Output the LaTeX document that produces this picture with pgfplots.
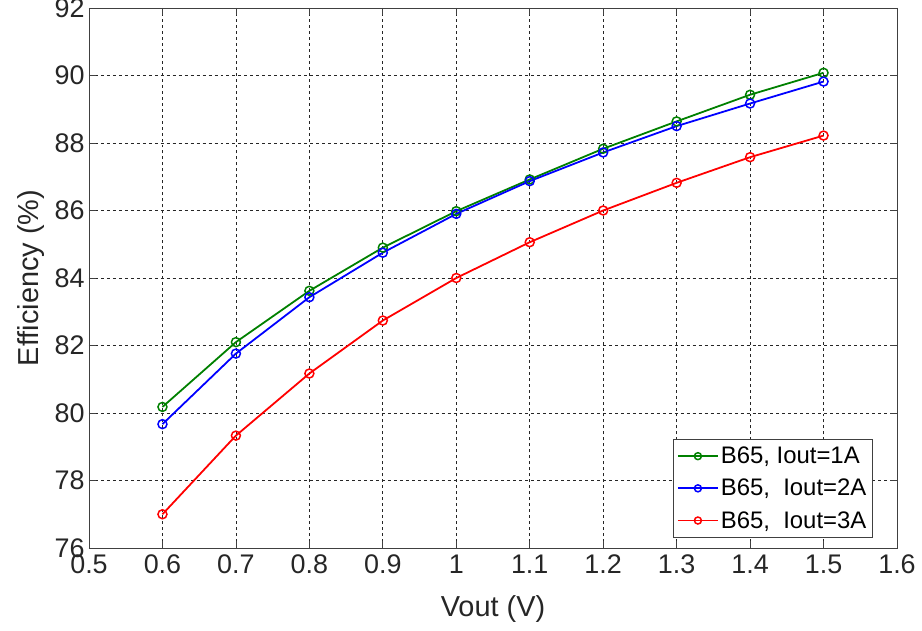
\documentclass[border=0pt]{standalone}
\usepackage{pgfplots}
\pgfplotsset{compat=1.18}
\usepackage{fontspec}
\setmainfont{Liberation Sans}
\definecolor{mgreen}{rgb}{0,0.5,0}
\begin{document}
\begin{tikzpicture}
\begin{axis}[
  name=ax,
  scale only axis,
  width=808bp, height=540bp,
  xmin=0.5, xmax=1.6, ymin=76, ymax=92,
  xtick={0.5,0.6,...,1.6},
  xticklabels={0.5,0.6,0.7,0.8,0.9,1,1.1,1.2,1.3,1.4,1.5,1.6},
  ytick={76,78,...,92},
  /pgf/number format/assume math mode=true,
  tick label style={font=\fontsize{27}{30}\selectfont, text=black!85},
  xticklabel style={yshift=-5bp, inner ysep=2bp},
  yticklabel style={xshift=-1bp, inner ysep=1bp},
  label style={font=\fontsize{29}{32}\selectfont, text=black!85},
  xlabel={Vout (V)}, ylabel={Efficiency (\%)},
  xlabel style={yshift=-16bp},
  ylabel style={yshift=3bp},
  tick align=inside, major tick length=7bp,
  tick style={black!75, line width=0.8pt},
  axis line style={draw=black!75, line width=0.8pt},
  grid=major,
  major grid style={dashed, black!85, line width=0.7pt},
  every axis plot/.append style={line width=1.8pt, mark=o, mark size=4.5bp, mark options={solid, line width=1.5pt}},
  legend cell align=left,
  legend style={font=\fontsize{24}{27}\selectfont, draw=black!75, line width=0.8pt, inner xsep=4bp, inner ysep=6bp, row sep=10bp, at={(0.970,0.0185)}, anchor=south east},
  legend image code/.code={
    \draw[#1, mark=none, line width=1.8pt] (0bp,0bp) -- (40bp,0bp);
    \draw[#1, only marks, mark size=3.5bp] plot coordinates {(20bp,0bp)};
  },
]
\addplot[color=mgreen] coordinates {(0.6,80.18)(0.7,82.1)(0.8,83.62)(0.9,84.9)(1.0,85.98)(1.1,86.92)(1.2,87.83)(1.3,88.64)(1.4,89.43)(1.5,90.08)};
\addlegendentry{B65, Iout=1A}
\addplot[color=blue] coordinates {(0.6,79.67)(0.7,81.76)(0.8,83.43)(0.9,84.75)(1.0,85.9)(1.1,86.87)(1.2,87.72)(1.3,88.5)(1.4,89.17)(1.5,89.82)};
\addlegendentry{B65,\ \ Iout=2A}
\addplot[color=red] coordinates {(0.6,77.0)(0.7,79.33)(0.8,81.17)(0.9,82.74)(1.0,84.0)(1.1,85.06)(1.2,86.0)(1.3,86.82)(1.4,87.58)(1.5,88.22)};
\addlegendentry{B65,\ \ Iout=3A}
\end{axis}
\pgfresetboundingbox
\path[use as bounding box] ([xshift=-89bp,yshift=8bp]ax.north west) rectangle ([xshift=25bp,yshift=-83bp]ax.south east);
\end{tikzpicture}
\end{document}
